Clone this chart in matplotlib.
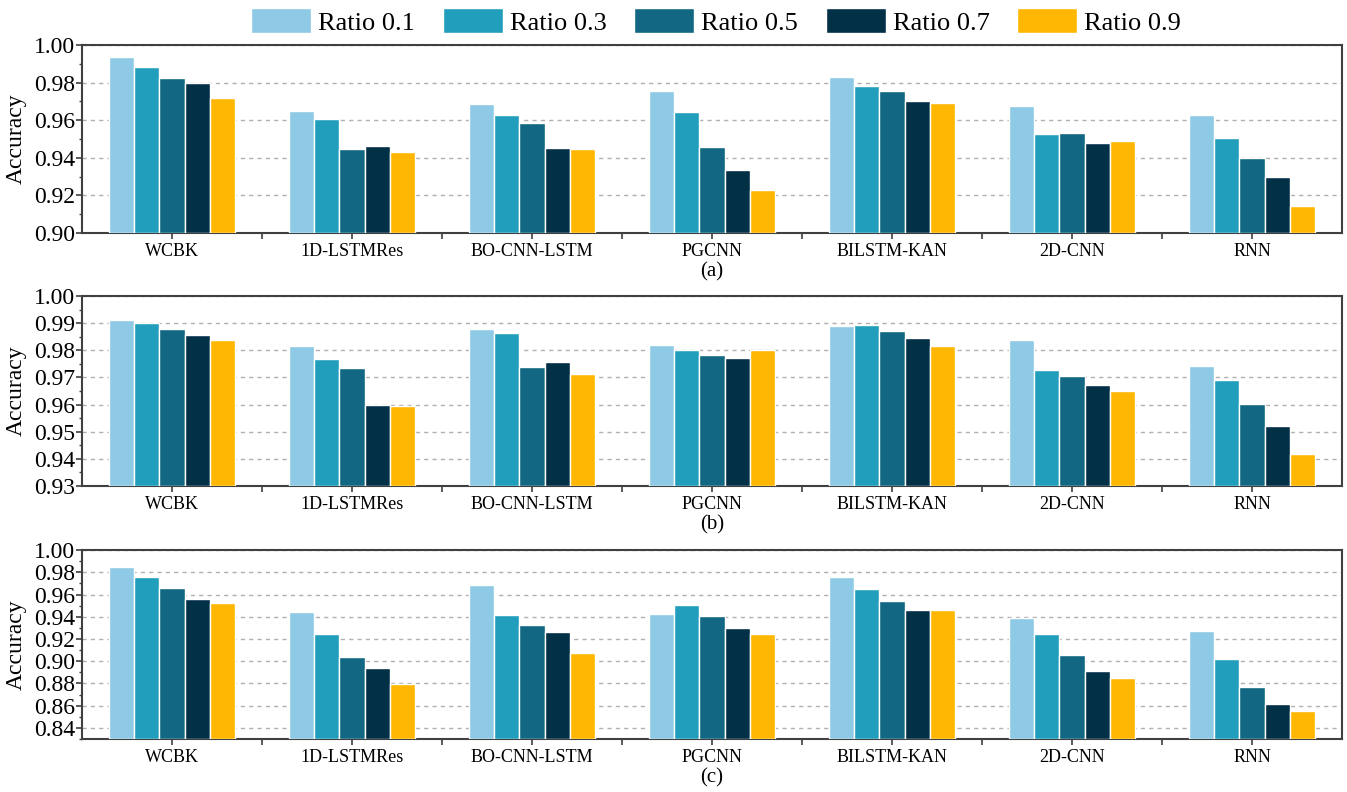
import numpy as np
import matplotlib.pyplot as plt
from matplotlib.ticker import MultipleLocator, AutoMinorLocator, FixedLocator

plt.rcParams["font.family"] = ["Liberation Serif", "DejaVu Serif"]

models = ["WCBK", "1D-LSTMRes", "BO-CNN-LSTM", "PGCNN", "BILSTM-KAN", "2D-CNN", "RNN"]
ratios = ["Ratio 0.1", "Ratio 0.3", "Ratio 0.5", "Ratio 0.7", "Ratio 0.9"]
colors = ["#8ECAE6", "#219EBC", "#126782", "#023047", "#FFB703"]

# accuracy per model, one row per ratio
acc_a = [
    [0.9935, 0.9648, 0.9685, 0.9756, 0.9832, 0.9674, 0.9625],
    [0.9885, 0.9609, 0.9626, 0.9646, 0.9782, 0.9529, 0.9505],
    [0.9825, 0.9449, 0.9586, 0.9455, 0.9755, 0.9534, 0.9400],
    [0.9800, 0.9462, 0.9451, 0.9336, 0.9700, 0.9479, 0.9297],
    [0.9719, 0.9432, 0.9446, 0.9230, 0.9692, 0.9488, 0.9144],
]
acc_b = [
    [0.9913, 0.9815, 0.9879, 0.9821, 0.9888, 0.9836, 0.9742],
    [0.9900, 0.9767, 0.9864, 0.9802, 0.9894, 0.9727, 0.9689],
    [0.9878, 0.9734, 0.9737, 0.9781, 0.9870, 0.9706, 0.9601],
    [0.9855, 0.9600, 0.9758, 0.9771, 0.9846, 0.9671, 0.9521],
    [0.9837, 0.9593, 0.9711, 0.9802, 0.9816, 0.9649, 0.9417],
]
acc_c = [
    [0.9848, 0.9442, 0.9687, 0.9424, 0.9755, 0.9391, 0.9272],
    [0.9755, 0.9245, 0.9418, 0.9504, 0.9651, 0.9245, 0.9021],
    [0.9663, 0.9039, 0.9323, 0.9403, 0.9543, 0.9054, 0.8767],
    [0.9558, 0.8940, 0.9263, 0.9296, 0.9457, 0.8910, 0.8618],
    [0.9528, 0.8797, 0.9075, 0.9248, 0.9457, 0.8850, 0.8552],
]

panels = [
    (acc_a, (0.90, 1.00), 0.02, "(a)"),
    (acc_b, (0.93, 1.00), 0.01, "(b)"),
    (acc_c, (0.83, 1.00), 0.02, "(c)"),
]

fig = plt.figure(figsize=(13.47, 7.92), dpi=100)
boxes = [(0.7058, 0.2374), (0.3864, 0.2399), (0.0669, 0.2386)]
x = np.arange(len(models))
width = 0.14

for (data, ylim, step, tag), (b, h) in zip(panels, boxes):
    ax = fig.add_axes([0.0609, b, 0.9354, h])
    for i, (vals, c) in enumerate(zip(data, colors)):
        ax.bar(x + (i - 2) * width, np.array(vals) - ylim[0], width, bottom=ylim[0],
               color=c, edgecolor="white", linewidth=1.0, label=ratios[i], zorder=3)
    ax.set_xlim(-0.5, len(models) - 0.5)
    ax.set_ylim(*ylim)
    ax.yaxis.set_major_locator(MultipleLocator(step))
    ax.yaxis.set_minor_locator(AutoMinorLocator(2))
    ax.yaxis.set_major_formatter(plt.FormatStrFormatter("%.2f"))
    ax.set_xticks(x)
    ax.set_xticklabels(models, fontsize=13)
    ax.xaxis.set_minor_locator(FixedLocator(np.arange(0.5, len(models) - 0.5, 1)))
    ax.tick_params(axis="y", which="major", labelsize=17, length=4, width=1.2,
                   color="#404040", pad=1)
    ax.tick_params(axis="y", which="minor", length=2.5, width=1.0, color="#404040")
    ax.tick_params(axis="x", which="major", length=4, width=1.2, color="#404040", pad=3)
    ax.tick_params(axis="x", which="minor", length=4, width=1.2, color="#404040")
    ax.grid(axis="y", which="major", linestyle=(0, (3, 3)), color="#b0b0b0",
            linewidth=1.0, zorder=0)
    ax.set_axisbelow(True)
    for s in ax.spines.values():
        s.set_color("#404040")
        s.set_linewidth(1.5)
    ax.set_ylabel("Accuracy", fontsize=17)
    ax.yaxis.set_label_coords(-0.044, 0.5)
    ax.text(0.5, -0.207, tag, transform=ax.transAxes, ha="center", va="center",
            fontsize=15)

handles, labels = fig.axes[0].get_legend_handles_labels()
fig.legend(handles, labels, loc="center", bbox_to_anchor=(0.5316, 0.973), ncol=5,
           frameon=False, fontsize=19, handlelength=2.27, handleheight=1.1,
           columnspacing=1.05, handletextpad=0.27, borderpad=0)

plt.savefig("out.png", dpi=100)
